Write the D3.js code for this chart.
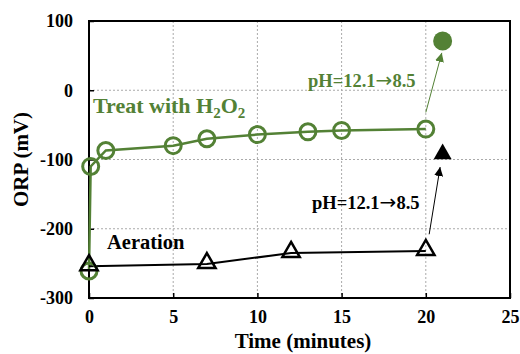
<!DOCTYPE html>
<html><head><meta charset="utf-8">
<script src="https://cdn.jsdelivr.net/npm/d3@7"></script>
<style>body{margin:0;background:#fff}svg{display:block}</style>
</head><body>
<script>
const xTicks = [0, 5, 10, 15, 20, 25];
const yTicks = [-300, -200, -100, 0, 100];
const h2o2Time = [0, 0.1, 1, 5, 7, 10, 13, 15, 20];
const h2o2ORP = [-261, -110, -87, -80, -70, -64, -60, -58, -56];
const aerTime = [0, 7, 12, 20];
const aerORP = [-254, -251, -235, -232];
const h2o2Final = [21, 71];
const aerFinal = [21, -92];
const arrowGreen = [[20, -32], [20.95, 54]];
const arrowBlack = [[20.2, -208], [20.85, -111]];
const green = "#538135";

const W = 520, H = 354;
const m = {l: 89, r: 10, t: 21, b: 56};
const svg = d3.select("body").append("svg").attr("width", W).attr("height", H);
const x = d3.scaleLinear().domain([0, 25]).range([m.l, W - m.r]);
const y = d3.scaleLinear().domain([-300, 100]).range([H - m.b, m.t]);
const font = "'Liberation Serif','Times New Roman',serif";

svg.append("defs").html(`
<marker id="ag" viewBox="0 0 10 10" refX="10" refY="5" markerWidth="9" markerHeight="9" markerUnits="userSpaceOnUse" orient="auto"><path d="M0,0L10,5L0,10z" fill="${green}"/></marker>
<marker id="ab" viewBox="0 0 10 10" refX="10" refY="5" markerWidth="9" markerHeight="9" markerUnits="userSpaceOnUse" orient="auto"><path d="M0,0L10,5L0,10z" fill="#000"/></marker>`);

// grid
const g = svg.append("g");
g.selectAll(".vg").data(xTicks.filter(d => d > 0 && d < 25)).join("line")
  .attr("x1", d => x(d)).attr("x2", d => x(d)).attr("y1", y(100)).attr("y2", y(-300))
  .attr("stroke", "#aaa").attr("stroke-width", 1).attr("stroke-dasharray", "2,2");
g.selectAll(".hg").data(yTicks.filter(d => d > -300 && d < 100)).join("line")
  .attr("y1", d => y(d)).attr("y2", d => y(d)).attr("x1", x(0)).attr("x2", x(25))
  .attr("stroke", "#aaa").attr("stroke-width", 1).attr("stroke-dasharray", "2,2");

// axes
const fmt = d => String(d);
const xa = svg.append("g").attr("transform", `translate(0,${y(-300)})`)
  .call(d3.axisBottom(x).tickValues(xTicks).tickFormat(fmt).tickSizeInner(-5).tickSizeOuter(0).tickPadding(12));
const ya = svg.append("g").attr("transform", `translate(${x(0)},0)`)
  .call(d3.axisLeft(y).tickValues(yTicks).tickFormat(fmt).tickSizeInner(-5).tickSizeOuter(0).tickPadding(16));
[xa, ya].forEach(a => {
  a.select(".domain").remove();
  a.selectAll("line").attr("stroke", "#000").attr("stroke-width", 1.5);
  a.selectAll("text").attr("font-family", font).attr("font-weight", "bold").attr("font-size", 18).attr("fill", "#000");
});
svg.append("rect").attr("x", x(0)).attr("y", y(100)).attr("width", x(25) - x(0)).attr("height", y(-300) - y(100))
  .attr("fill", "none").attr("stroke", "#000").attr("stroke-width", 2);

// axis titles
svg.append("text").attr("x", 303).attr("y", 348).attr("text-anchor", "middle")
  .attr("font-family", font).attr("font-weight", "bold").attr("font-size", 21).text("Time (minutes)");
svg.append("text").attr("transform", `translate(28,${(y(100) + y(-300)) / 2}) rotate(-90)`).attr("text-anchor", "middle")
  .attr("font-family", font).attr("font-weight", "bold").attr("font-size", 21).text("ORP (mV)");

// lines
const line = d3.line().x(d => x(d[0])).y(d => y(d[1]));
const gData = h2o2Time.map((t, i) => [t, h2o2ORP[i]]);
const aData = aerTime.map((t, i) => [t, aerORP[i]]);
svg.append("path").datum(gData).attr("d", line).attr("fill", "none").attr("stroke", green).attr("stroke-width", 2.5);
svg.append("path").datum(aData).attr("d", line).attr("fill", "none").attr("stroke", "#000").attr("stroke-width", 2);

svg.selectAll(".gc").data(gData).join("circle").attr("cx", d => x(d[0])).attr("cy", d => y(d[1])).attr("r", 8)
  .attr("fill", "none").attr("stroke", green).attr("stroke-width", 3);
const tri = d3.symbol().type(d3.symbolTriangle).size(130);
svg.selectAll(".at").data(aData).join("path").attr("d", tri)
  .attr("transform", d => `translate(${x(d[0])},${y(d[1]) - 1})`)
  .attr("fill", "none").attr("stroke", "#000").attr("stroke-width", 2.5);

// final points
svg.append("circle").attr("cx", x(h2o2Final[0])).attr("cy", y(h2o2Final[1])).attr("r", 9.5).attr("fill", green);
svg.append("path").attr("d", d3.symbol().type(d3.symbolTriangle).size(140))
  .attr("transform", `translate(${x(aerFinal[0])},${y(aerFinal[1])})`).attr("fill", "#000");

// arrows
svg.append("line").attr("x1", x(arrowGreen[0][0])).attr("y1", y(arrowGreen[0][1]))
  .attr("x2", x(arrowGreen[1][0])).attr("y2", y(arrowGreen[1][1]))
  .attr("stroke", green).attr("stroke-width", 1).attr("marker-end", "url(#ag)");
svg.append("line").attr("x1", x(arrowBlack[0][0])).attr("y1", y(arrowBlack[0][1]))
  .attr("x2", x(arrowBlack[1][0])).attr("y2", y(arrowBlack[1][1]))
  .attr("stroke", "#000").attr("stroke-width", 1).attr("marker-end", "url(#ab)");

// labels
const t1 = svg.append("text").attr("x", 93).attr("y", 113).attr("font-family", font).attr("font-weight", "bold")
  .attr("font-size", 22).attr("fill", green);
t1.append("tspan").text("Treat with H");
t1.append("tspan").attr("font-size", 15).attr("dy", 5).text("2");
t1.append("tspan").attr("dy", -5).text("O");
t1.append("tspan").attr("font-size", 15).attr("dy", 5).text("2");
svg.append("text").attr("x", 107).attr("y", 249).attr("font-family", font).attr("font-weight", "bold")
  .attr("font-size", 20.5).text("Aeration");
function ph(xp, yp, col) {
  const t = svg.append("text").attr("x", xp).attr("y", yp).attr("font-family", font).attr("font-weight", "bold")
    .attr("font-size", 18.5).attr("fill", col);
  t.append("tspan").text("pH=12.1");
  t.append("tspan").attr("font-family", "'DejaVu Sans'").attr("font-weight", "normal").attr("font-size", 20).text("→");
  t.append("tspan").text("8.5");
}
ph(308, 87, green);
ph(312, 209, "#000");
</script>
</body></html>
